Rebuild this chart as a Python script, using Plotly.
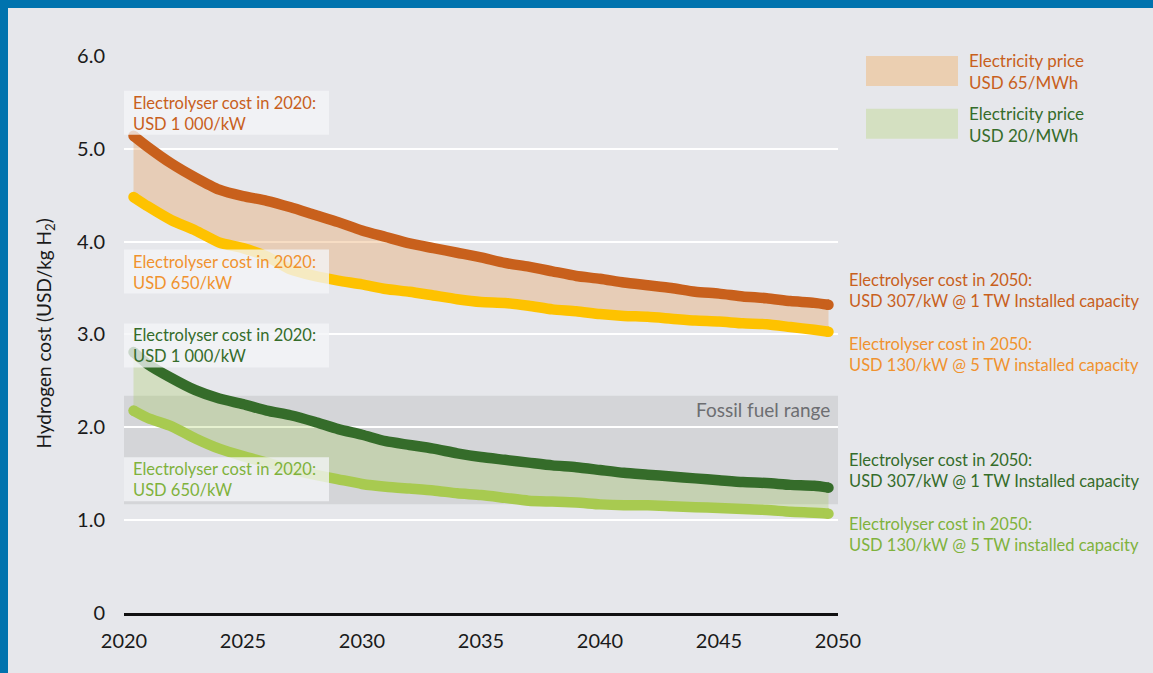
import plotly.graph_objects as go

# years on the x axis (curves start a little after 2020 and end just before 2050)
years = [2020.4] + list(range(2021, 2050)) + [2049.6]

# USD/kg H2, electricity USD 65/MWh
cost_65_1000 = [5.14, 5.02, 4.84, 4.69, 4.56, 4.49, 4.44, 4.37, 4.29, 4.21,
                4.12, 4.05, 3.98, 3.93, 3.88, 3.83, 3.77, 3.73, 3.68, 3.63,
                3.60, 3.56, 3.53, 3.50, 3.46, 3.44, 3.41, 3.39, 3.36, 3.34, 3.32]
cost_65_650 = [4.48, 4.38, 4.23, 4.12, 3.99, 3.93, 3.84, 3.70, 3.63, 3.58,
               3.54, 3.49, 3.46, 3.42, 3.38, 3.35, 3.34, 3.31, 3.27, 3.25,
               3.22, 3.20, 3.19, 3.17, 3.15, 3.14, 3.12, 3.11, 3.08, 3.05, 3.03]

# USD/kg H2, electricity USD 20/MWh
cost_20_1000 = [2.81, 2.68, 2.53, 2.40, 2.31, 2.25, 2.18, 2.13, 2.06, 1.98,
                1.92, 1.85, 1.81, 1.77, 1.72, 1.68, 1.65, 1.62, 1.59, 1.57,
                1.54, 1.51, 1.49, 1.47, 1.45, 1.43, 1.41, 1.40, 1.38, 1.37, 1.35]
cost_20_650 = [2.18, 2.10, 2.01, 1.88, 1.77, 1.69, 1.62, 1.55, 1.49, 1.44,
               1.39, 1.36, 1.34, 1.32, 1.29, 1.27, 1.24, 1.21, 1.20, 1.19,
               1.17, 1.16, 1.16, 1.15, 1.14, 1.13, 1.12, 1.11, 1.09, 1.08, 1.07]

fossil_range = [1.17, 2.34]

y_ticks = [0, 1, 2, 3, 4, 5, 6]
y_ticktext = ["0", "1.0", "2.0", "3.0", "4.0", "5.0", "6.0"]
x_ticks = [2020, 2025, 2030, 2035, 2040, 2045, 2050]

FONT = "Lato"
BG = "#e6e7eb"
BLUE = "#0073ae"
DARK_ORANGE = "#c8601c"
YELLOW = "#fec200"
LIGHT_ORANGE_TXT = "#f0922e"
DARK_GREEN = "#356c2a"
LIGHT_GREEN = "#a8ca50"
LIGHT_GREEN_TXT = "#7fb23c"

# pixel helpers for placing the decorations (plot area 124..838 x 55..613)
def py(v):
    return (613 - v) / 93.0

def px_paper(v):
    return (v - 124) / 714.0

fig = go.Figure()

# bands between the two electrolyser cost curves
fig.add_trace(go.Scatter(x=years, y=cost_65_650, mode="lines", line=dict(width=0),
                         hoverinfo="skip", showlegend=False))
fig.add_trace(go.Scatter(x=years, y=cost_65_1000, mode="lines", line=dict(width=0),
                         fill="tonexty", fillcolor="rgba(234,160,92,0.36)",
                         hoverinfo="skip", showlegend=False))
fig.add_trace(go.Scatter(x=years, y=cost_20_650, mode="lines", line=dict(width=0),
                         hoverinfo="skip", showlegend=False))
fig.add_trace(go.Scatter(x=years, y=cost_20_1000, mode="lines", line=dict(width=0),
                         fill="tonexty", fillcolor="rgba(150,196,60,0.24)",
                         hoverinfo="skip", showlegend=False))

for ys, col in [(cost_65_650, YELLOW), (cost_65_1000, DARK_ORANGE),
                (cost_20_650, LIGHT_GREEN), (cost_20_1000, DARK_GREEN)]:
    fig.add_trace(go.Scatter(x=years, y=ys, mode="lines",
                             line=dict(color=col, width=10.5, shape="spline", smoothing=0.6),
                             showlegend=False))
    # rounded ends
    fig.add_trace(go.Scatter(x=[years[0], years[-1]], y=[ys[0], ys[-1]], mode="markers",
                             marker=dict(color=col, size=10.5, line_width=0),
                             hoverinfo="skip", showlegend=False))

# fossil fuel range band
fig.add_shape(type="rect", xref="x", yref="y", x0=2020, x1=2050,
              y0=fossil_range[0], y1=fossil_range[1],
              fillcolor="#d4d5d8", line_width=0, layer="below")
fig.add_annotation(x=2049.75, y=py(409), xref="x", yref="y", text="Fossil fuel range",
                   showarrow=False, xanchor="right", yanchor="middle",
                   font=dict(family=FONT, size=19, color="#6d6e71"))

# blue frame on top and left
fig.add_shape(type="rect", xref="paper", yref="paper", x0=-0.2, x1=px_paper(8),
              y0=-0.2, y1=1.3, fillcolor=BLUE, line_width=0)
fig.add_shape(type="rect", xref="paper", yref="paper", x0=-0.2, x1=1.6,
              y0=(613 - 8) / 558.0, y1=1.3, fillcolor=BLUE, line_width=0)

# boxed labels on the left: (text, box top px, colour)
box_labels = [
    ("Electrolyser cost in 2020:<br>USD 1\u202f000/kW", 91, DARK_ORANGE),
    ("Electrolyser cost in 2020:<br>USD 650/kW", 250, LIGHT_ORANGE_TXT),
    ("Electrolyser cost in 2020:<br>USD 1\u202f000/kW", 324, DARK_GREEN),
    ("Electrolyser cost in 2020:<br>USD 650/kW", 458, LIGHT_GREEN_TXT),
]
for txt, top, col in box_labels:
    fig.add_shape(type="rect", xref="paper", yref="y", x0=0, x1=px_paper(329),
                  y0=py(top + 43), y1=py(top - 1), fillcolor="rgba(244,245,247,0.78)",
                  line_width=0, layer="above")
    fig.add_annotation(x=px_paper(131), y=py(top + 21.5), xref="paper", yref="y", text=txt,
                       showarrow=False, xanchor="left", yanchor="middle", align="left",
                       font=dict(family=FONT, size=16.5, color=col))

# labels on the right: (text, block centre px, colour)
right_labels = [
    ("Electrolyser cost in 2050:<br>USD 307/kW @ 1 TW Installed capacity", 289.5, DARK_ORANGE),
    ("Electrolyser cost in 2050:<br>USD 130/kW @ 5 TW installed capacity", 354.5, LIGHT_ORANGE_TXT),
    ("Electrolyser cost in 2050:<br>USD 307/kW @ 1 TW Installed capacity", 470.5, DARK_GREEN),
    ("Electrolyser cost in 2050:<br>USD 130/kW @ 5 TW installed capacity", 534.5, LIGHT_GREEN_TXT),
]
for txt, yc, col in right_labels:
    fig.add_annotation(x=px_paper(847), y=py(yc), xref="paper", yref="y", text=txt,
                       showarrow=False, xanchor="left", yanchor="middle", align="left",
                       font=dict(family=FONT, size=16.5, color=col))

# legend drawn by hand: (text, rect top px, fill, text colour)
legend_items = [
    ("Electricity price<br>USD 65/MWh", 55, "#ebcfb1", DARK_ORANGE),
    ("Electricity price<br>USD 20/MWh", 108, "#d4e0c1", DARK_GREEN),
]
for txt, top, fc, tc in legend_items:
    fig.add_shape(type="rect", xref="paper", yref="y", x0=px_paper(866), x1=px_paper(958),
                  y0=py(top + 30), y1=py(top), fillcolor=fc, line_width=0)
    fig.add_annotation(x=px_paper(967), y=py(top + 15.5), xref="paper", yref="y", text=txt,
                       showarrow=False, xanchor="left", yanchor="middle", align="left",
                       font=dict(family=FONT, size=17, color=tc))

# y axis title
fig.add_annotation(x=px_paper(45), y=py(333), xref="paper", yref="y",
                   text="Hydrogen cost (USD/kg H<sub>2</sub>)", textangle=-90,
                   xanchor="center", yanchor="middle",
                   showarrow=False, font=dict(family=FONT, size=19, color="#1a1a1a"))

fig.update_layout(
    width=1153, height=673,
    margin=dict(l=124, r=315, t=55, b=60),
    paper_bgcolor=BG, plot_bgcolor=BG,
    showlegend=False,
    font=dict(family=FONT, color="#1a1a1a"),
    xaxis=dict(range=[2020, 2050], tickvals=x_ticks, showgrid=False, zeroline=False,
               showline=True, linecolor="#111111", linewidth=2.5,
               ticks="outside", ticklen=8, tickcolor="rgba(0,0,0,0)",
               tickfont=dict(family=FONT, size=20, color="#1a1a1a")),
    yaxis=dict(range=[0, 6.01], tickvals=y_ticks, ticktext=y_ticktext,
               showgrid=True, gridcolor="#ffffff", gridwidth=1.5, zeroline=False,
               ticks="outside", ticklen=14, tickcolor="rgba(0,0,0,0)",
               tickfont=dict(family=FONT, size=20, color="#1a1a1a")),
)

# the page has a default 8px body margin; remove it so the figure fills the window
fig.write_html("out.html", config={"displayModeBar": False},
               post_script="document.body.style.margin='0';")
